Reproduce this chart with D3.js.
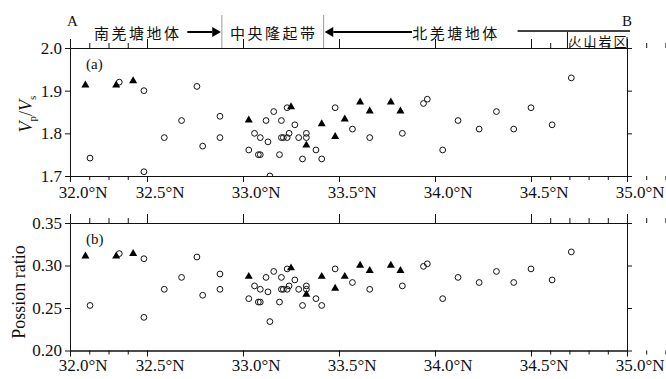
<!DOCTYPE html>
<html>
<head>
<meta charset="utf-8">
<script src="https://cdn.jsdelivr.net/npm/d3@7"></script>
<style>
  body { margin: 0; background: #fff; }
  svg text { font-family: "Liberation Serif", "Times New Roman", serif; fill: #111; }
  svg .cjk { font-family: "Noto Sans CJK SC", sans-serif; }
  .axis path, .axis line { stroke: #111; stroke-width: 1; }
</style>
</head>
<body>
<svg id="chart" width="666" height="379"></svg>
<script>
// stations marked with filled triangles
var triLat     = [32.10, 32.30, 32.41, 33.03, 33.25, 33.33, 33.41, 33.48, 33.53, 33.61, 33.66, 33.77, 33.82];
var triVpVs    = [1.913, 1.913, 1.923, 1.831, 1.862, 1.772, 1.822, 1.792, 1.833, 1.873, 1.852, 1.873, 1.852];
var triPoisson = [0.311, 0.311, 0.314, 0.287, 0.297, 0.266, 0.287, 0.273, 0.287, 0.300, 0.294, 0.300, 0.294];

// stations marked with open circles
var circLat = [32.13, 32.32, 32.48, 32.48, 32.59, 32.68, 32.76, 32.79, 32.88, 32.88,
               33.03, 33.06, 33.08, 33.09, 33.09, 33.12, 33.13, 33.14, 33.16, 33.19,
               33.20, 33.20, 33.21, 33.23, 33.24, 33.23, 33.27, 33.29, 33.31, 33.33,
               33.33, 33.38, 33.41, 33.48, 33.57, 33.66, 33.83, 33.94, 33.96, 34.04,
               34.12, 34.23, 34.32, 34.41, 34.50, 34.61, 34.71];
var circVpVs = [1.742, 1.920, 1.900, 1.710, 1.790, 1.830, 1.910, 1.770, 1.840, 1.790,
                1.761, 1.800, 1.750, 1.750, 1.790, 1.830, 1.780, 1.700, 1.851, 1.750,
                1.830, 1.790, 1.790, 1.860, 1.800, 1.790, 1.820, 1.790, 1.740, 1.800,
                1.790, 1.761, 1.740, 1.860, 1.810, 1.790, 1.800, 1.870, 1.880, 1.761,
                1.830, 1.810, 1.851, 1.810, 1.860, 1.820, 1.930];
var circPoisson = [0.253, 0.314, 0.308, 0.239, 0.272, 0.286, 0.310, 0.265, 0.290, 0.272,
                   0.261, 0.276, 0.257, 0.257, 0.272, 0.286, 0.269, 0.234, 0.293, 0.257,
                   0.286, 0.272, 0.272, 0.296, 0.276, 0.272, 0.283, 0.272, 0.253, 0.276,
                   0.272, 0.261, 0.253, 0.296, 0.280, 0.272, 0.276, 0.299, 0.302, 0.261,
                   0.286, 0.280, 0.293, 0.280, 0.296, 0.283, 0.316];

var majorTicks = [32.0, 32.5, 33.0, 33.5, 34.0, 34.5, 35.0];
var minorTicks = [32.125, 32.25, 32.375].concat(
  d3.range(26, 50).map(function(i) { return +(32.0 + i / 10).toFixed(1); })
    .filter(function(v) { return Math.round(v * 10) % 5 !== 0; }));
var vpvsTicks = [1.7, 1.8, 1.9, 2.0];
var poissonTicks = [0.20, 0.25, 0.30, 0.35];

// tectonic units along the profile
var zoneBounds = [32.89, 33.42];
var volcanicBound = 34.69;

var svg = d3.select("#chart");
var x = d3.scaleLinear().domain([32.0, 32.5, 35.0]).range([70, 147, 627]);

var panels = [
  { top: 48, bottom: 176, domain: [1.7, 2.0], ticks: vpvsTicks, fmt: d3.format(".1f"),
    tri: triVpVs, circ: circVpVs, tag: "(a)", labelPad: 4 },
  { top: 223, bottom: 350.5, domain: [0.20, 0.35], ticks: poissonTicks, fmt: d3.format(".2f"),
    tri: triPoisson, circ: circPoisson, tag: "(b)", labelPad: 2 }
];

panels.forEach(function(p, pi) {
  var y = d3.scaleLinear().domain(p.domain).range([p.bottom, p.top]);
  var g = svg.append("g");

  g.append("clipPath").attr("id", "clip" + pi)
    .append("rect").attr("x", 70).attr("y", p.top).attr("width", 557).attr("height", p.bottom - p.top);

  // top axis, ticks outward
  g.append("g").attr("class", "axis").attr("transform", "translate(0," + p.top + ")")
    .call(d3.axisTop(x).tickValues(majorTicks).tickSize(9).tickSizeOuter(0).tickFormat(""));
  g.append("g").attr("class", "axis").attr("transform", "translate(0," + p.top + ")")
    .call(d3.axisTop(x).tickValues(minorTicks).tickSize(5).tickSizeOuter(0).tickFormat(""));

  // bottom axis with labels
  var bottom = g.append("g").attr("class", "axis").attr("transform", "translate(0," + p.bottom + ")")
    .call(d3.axisBottom(x).tickValues(majorTicks).tickSize(6).tickSizeOuter(0).tickPadding(p.labelPad)
      .tickFormat(d3.format(".1f")));
  g.append("g").attr("class", "axis").attr("transform", "translate(0," + p.bottom + ")")
    .call(d3.axisBottom(x).tickValues(minorTicks).tickSize(4).tickSizeOuter(0).tickFormat(""));
  bottom.selectAll("text").each(function() {
    var t = d3.select(this);
    var w = this.getComputedTextLength();
    t.attr("text-anchor", "start").attr("x", -w / 2 - 3);
    t.append("tspan").text("°N");
  });

  // left and right axes
  g.append("g").attr("class", "axis").attr("transform", "translate(70,0)")
    .call(d3.axisLeft(y).tickValues(p.ticks).tickSize(5).tickSizeOuter(0).tickPadding(3).tickFormat(p.fmt));
  g.append("g").attr("class", "axis").attr("transform", "translate(627,0)")
    .call(d3.axisRight(y).tickValues(p.ticks).tickSize(5).tickSizeOuter(0).tickFormat(""));

  svg.selectAll(".axis text").attr("font-size", 17).attr("fill", "#111");
  svg.selectAll(".axis").attr("font-family", null);

  var marks = g.append("g").attr("clip-path", "url(#clip" + pi + ")");

  marks.selectAll("path.tri").data(triLat).enter().append("path")
    .attr("class", "tri")
    .attr("d", d3.symbol(d3.symbolTriangle, 28))
    .attr("transform", function(d, i) { return "translate(" + x(d) + "," + y(p.tri[i]) + ")"; })
    .attr("fill", "#000");

  marks.selectAll("circle").data(circLat).enter().append("circle")
    .attr("cx", function(d) { return x(d); })
    .attr("cy", function(d, i) { return y(p.circ[i]); })
    .attr("r", 2.9)
    .attr("fill", "none")
    .attr("stroke", "#111")
    .attr("stroke-width", 1);

  g.append("text").attr("x", 86).attr("y", p.top + 21).attr("font-size", 15).text(p.tag);
});

// y axis titles
var vt = svg.append("text").attr("transform", "translate(32,114) rotate(-90)")
  .attr("text-anchor", "middle").attr("font-size", 18);
vt.append("tspan").attr("font-style", "italic").text("V");
vt.append("tspan").attr("font-size", 11).attr("dy", 4).text("p");
vt.append("tspan").attr("dy", -4).text("/");
vt.append("tspan").attr("font-style", "italic").text("V");
vt.append("tspan").attr("font-size", 11).attr("dy", 4).text("s");

svg.append("text").attr("transform", "translate(25,292) rotate(-90)")
  .attr("text-anchor", "middle").attr("font-size", 18).text("Possion ratio");

// profile header
var hy = 32;
svg.append("text").attr("x", 67).attr("y", 26).attr("font-size", 15).text("A");
svg.append("text").attr("x", 622).attr("y", 26).attr("font-size", 15).text("B");

zoneBounds.forEach(function(b) {
  svg.append("line").attr("x1", x(b)).attr("x2", x(b)).attr("y1", 15).attr("y2", 48)
    .attr("stroke", "#999").attr("stroke-width", 1);
});

svg.append("text").attr("class", "cjk").attr("x", x(32.44)).attr("y", 39)
  .attr("text-anchor", "middle").attr("font-size", 15).attr("letter-spacing", 2.5).text("南羌塘地体");
svg.append("text").attr("class", "cjk").attr("x", x(33.16)).attr("y", 39)
  .attr("text-anchor", "middle").attr("font-size", 15).attr("letter-spacing", 2.5).text("中央隆起带");
svg.append("text").attr("class", "cjk").attr("x", x(34.11)).attr("y", 39)
  .attr("text-anchor", "middle").attr("font-size", 15).attr("letter-spacing", 2.5).text("北羌塘地体");

// arrows
svg.append("line").attr("x1", x(32.71)).attr("x2", x(32.84)).attr("y1", hy).attr("y2", hy)
  .attr("stroke", "#000").attr("stroke-width", 2);
svg.append("path").attr("d", d3.line()([[x(32.84), hy - 5], [x(32.89) - 1, hy], [x(32.84), hy + 5]]))
  .attr("fill", "#000");
svg.append("path").attr("d", d3.line()([[x(33.47), hy - 5], [x(33.42) + 1, hy], [x(33.47), hy + 5]]))
  .attr("fill", "#000");
svg.append("line").attr("x1", x(33.47)).attr("x2", x(33.88)).attr("y1", hy).attr("y2", hy)
  .attr("stroke", "#000").attr("stroke-width", 2);
svg.append("line").attr("x1", x(34.43)).attr("x2", x(35.0) + 3).attr("y1", hy - 1).attr("y2", hy - 1)
  .attr("stroke", "#000").attr("stroke-width", 1.5);

// volcanic zone box
svg.append("line").attr("x1", x(volcanicBound)).attr("x2", x(volcanicBound)).attr("y1", hy).attr("y2", 48)
  .attr("stroke", "#111");
svg.append("line").attr("x1", x(35.0)).attr("x2", x(35.0)).attr("y1", 37).attr("y2", 48)
  .attr("stroke", "#111");
svg.append("text").attr("class", "cjk").attr("x", x(volcanicBound) + 1).attr("y", 46)
  .attr("font-size", 13).attr("letter-spacing", 2).text("火山岩区");
</script>
</body>
</html>
